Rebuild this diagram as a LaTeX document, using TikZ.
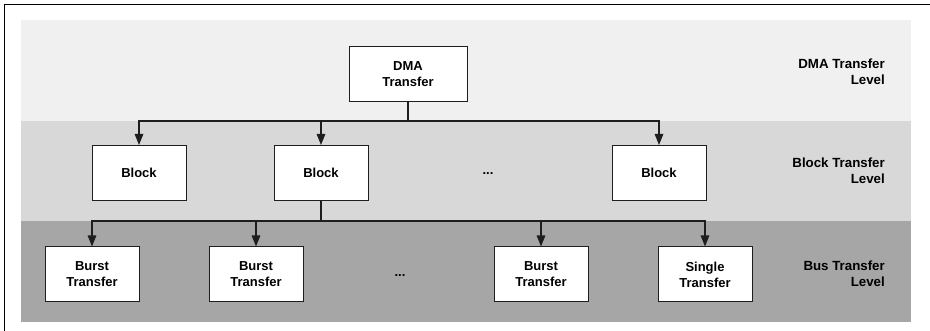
\documentclass[tikz,border=0pt]{standalone}
\usepackage{fontspec}
\setmainfont{Liberation Sans}
\usepackage{tikz}
\usetikzlibrary{arrows.meta,positioning,calc}
\definecolor{levelTopFill}{RGB}{240,240,240}
\definecolor{levelMidFill}{RGB}{216,216,216}
\definecolor{levelLowFill}{RGB}{166,166,166}
\definecolor{treeLine}{RGB}{30,30,30}
\tikzset{
  xferbox/.style={rectangle, draw=treeLine, fill=white, line width=1pt,
    minimum width=94pt, minimum height=55pt, align=center, inner sep=0pt,
    font=\bfseries\fontsize{13}{16}\selectfont},
  levellabel/.style={anchor=east, align=right, inner sep=0pt,
    font=\bfseries\fontsize{13.3}{16}\selectfont},
  dotslabel/.style={inner sep=0pt, font=\bfseries\fontsize{13}{16}\selectfont},
  treeline/.style={draw=treeLine, line width=1.2pt},
  treearrow/.style={treeline, -{Triangle[length=11pt,width=8.5pt]}},
}
\begin{document}
\begin{tikzpicture}[x=1pt,y=-1pt]
  \useasboundingbox (0,0) rectangle (930,331);
  % level bands
  \fill[levelTopFill] (21,20) rectangle (911,121);
  \fill[levelMidFill] (21,121) rectangle (911,221);
  \fill[levelLowFill] (21,221) rectangle (911,322);
  \draw[line width=1pt] (4,331) -- (4,5) -- (930,5);

  \node[levellabel] (l1) at (885,72) {DMA Transfer\\Level};
  \node[levellabel] (l2) at (885,171) {Block Transfer\\Level};
  \node[levellabel] (l3) at (885,274) {Bus Transfer\\Level};

  % DMA level
  \node[xferbox, minimum width=118pt] (dma) at (408,74.5) {DMA\\Transfer};

  % block level
  \node[xferbox] (blk1) at (139,173) {Block};
  \node[xferbox] (blk2) at (321,173) {Block};
  \node[dotslabel] (blkdots) at (488,174) {...};
  \node[xferbox] (blk3) at (659,173) {Block};

  % bus level
  \node[xferbox] (bus1) at (92,274.5) {Burst\\Transfer};
  \node[xferbox] (bus2) at (256,274.5) {Burst\\Transfer};
  \node[dotslabel] (busdots) at (400,276) {...};
  \node[xferbox] (bus3) at (541,274.5) {Burst\\Transfer};
  \node[xferbox] (bus4) at (705,274.5) {Single\\Transfer};

  \coordinate (jt) at (dma.south |- 0,121);
  \draw[treeline] (dma.south) -- (jt);
  \draw[treearrow] (jt) -| (blk1.north);
  \draw[treearrow] (jt) -| (blk2.north);
  \draw[treearrow] (jt) -| (blk3.north);

  \coordinate (jb) at (blk2.south |- 0,221);
  \draw[treeline] (blk2.south) -- (jb);
  \draw[treearrow] (jb) -| (bus1.north);
  \draw[treearrow] (jb) -| (bus2.north);
  \draw[treearrow] (jb) -| (bus3.north);
  \draw[treearrow] (jb) -| (bus4.north);
\end{tikzpicture}
\end{document}
